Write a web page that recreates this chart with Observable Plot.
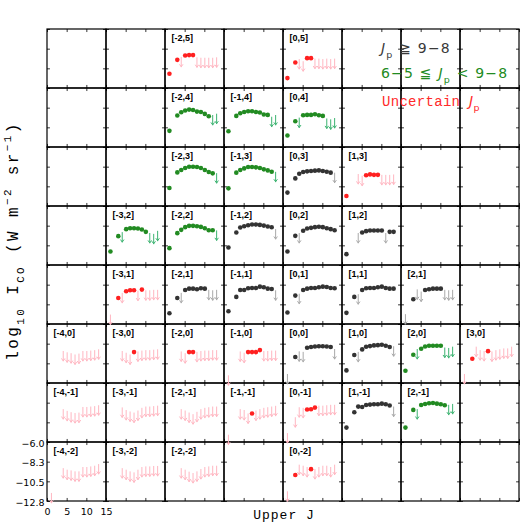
<!DOCTYPE html>
<html><head><meta charset="utf-8">
<script src="https://cdn.jsdelivr.net/npm/d3@7"></script>
<script src="https://cdn.jsdelivr.net/npm/@observablehq/plot@0.6"></script>
<style>
body{margin:0;background:#fff;}
#wrap{position:relative;width:530px;height:530px;overflow:hidden;background:#fff;}
</style></head><body><div id="wrap"></div>
<script>
// ---------- data ----------
const J_LEVELS = [1, 3, 4, 5, 6, 7, 8, 9, 10, 11, 12, 13];
const COLS = [-4, -3, -2, -1, 0, 1, 2, 3];
const ROWS = [5, 4, 3, 2, 1, 0, -1, -2];
const X_DOMAIN = [0, 15];
const Y_DOMAIN = [-12.8, -6.0];
const X_TICKS = [0, 5, 10, 15];
const X_TICK_LABELS = ["0", "5", "10", "15"];
const Y_TICKS = [-6.0, -8.2667, -10.5333, -12.8];
const Y_TICK_LABELS = ["\u22126.0", "\u22128.3", "\u221210.5", "\u221212.8"];

const panelPos = [
  [-2,5],[0,5],
  [-2,4],[-1,4],[0,4],
  [-2,3],[-1,3],[0,3],[1,3],
  [-3,2],[-2,2],[-1,2],[0,2],[1,2],
  [-3,1],[-2,1],[-1,1],[0,1],[1,1],[2,1],
  [-4,0],[-3,0],[-2,0],[-1,0],[0,0],[1,0],[2,0],[3,0],
  [-4,-1],[-3,-1],[-2,-1],[-1,-1],[0,-1],[1,-1],[2,-1],
  [-4,-2],[-3,-2],[-2,-2],[0,-2]
];
// high: Jp >= 9-8, mid: 6-5 <= Jp < 9-8, unc: uncertain Jp
const panelClass = [
  "unc","unc",
  "mid","mid","mid",
  "mid","mid","high","unc",
  "mid","mid","high","high","high",
  "unc","high","high","high","high","high",
  "unc","unc","unc","unc","high","high","mid","unc",
  "unc","unc","unc","unc","unc","high","mid",
  "unc","unc","unc","unc"
];
// per J level: d = detection, u = upper limit, - = none
const panelFlags = [
  "dduddduuuuuu","dduudduuuuuu",
  "dddddddddduu","dddddddddduu","ddudddddduuu",
  "dddddddddddu","dddddddddddu","dddddddddddu","d-uudddduuuu",
  "ddudddddduuu","dddddddddddu","dddddddddddu","dduddddddddd","d-uddddddudd",
  "ududdduduuuu","ddudddddduuu","dddddddddddu","dduddddddddd","dduddddddddd","uduuddddduuu",
  "--uuuuuuuuuu","--uuuduuuuuu","--uudduuuuuu","u-uudddduuuu","uduudddddddu","dduddddddddu","ddudddddduuu","uduuuduuuuuu",
  "--uuuuuuuuuu","--uuuuuuuuuu","--uuuuuuuuuu","u-uuuduuuuuu","uuuuddduuuuu","dddddddddddu","dduddddddduu",
  "u-uuuuuuuuuu","--uuuuuuuuuu","--uuuuuuuuuu","uduuuduuuuuu"
];
const panelValues = [
  [-11.1,-9.5,-9.2,-9.0,-8.95,-8.95,-9.25,-9.3,-9.3,-9.3,-9.3,-9.25],
  [-11.6,-9.8,-9.45,-9.7,-9.3,-9.3,-9.4,-9.4,-9.45,-9.4,-9.45,-9.4],
  [-10.88,-9.12,-8.74,-8.54,-8.43,-8.47,-8.66,-8.7,-8.93,-9.2,-9.1,-8.95],
  [-10.92,-9.16,-8.85,-8.7,-8.62,-8.62,-8.7,-8.77,-9.0,-9.04,-9.3,-9.1],
  [-11.42,-9.77,-9.4,-9.08,-9.04,-9.04,-8.97,-9.08,-9.16,-9.5,-9.6,-9.45],
  [-10.67,-8.87,-8.6,-8.37,-8.21,-8.21,-8.25,-8.37,-8.6,-8.83,-8.98,-9.0],
  [-10.71,-8.9,-8.6,-8.41,-8.25,-8.25,-8.29,-8.37,-8.52,-8.64,-8.79,-8.85],
  [-11.2,-9.56,-9.02,-8.83,-8.75,-8.71,-8.67,-8.64,-8.71,-8.79,-8.9,-8.95],
  [-11.59,null,-9.1,-9.3,-9.2,-9.1,-9.15,-9.15,-9.2,-9.2,-9.2,-9.15],
  [-11.18,-9.42,-9.0,-8.61,-8.5,-8.5,-8.54,-8.65,-8.92,-9.1,-9.2,-8.85],
  [-10.8,-9.07,-8.69,-8.38,-8.23,-8.23,-8.27,-8.35,-8.5,-8.73,-8.73,-8.8],
  [-10.72,-9.0,-8.42,-8.27,-8.16,-8.08,-8.08,-8.12,-8.2,-8.31,-8.39,-8.65],
  [-11.18,-9.38,-9.1,-8.8,-8.54,-8.46,-8.38,-8.34,-8.38,-8.5,-8.61,-8.73],
  [-11.49,null,-9.1,-9.0,-8.84,-8.77,-8.77,-8.77,-8.77,-9.1,-8.92,-8.92],
  [-11.7,-9.74,-9.2,-8.97,-8.86,-8.86,-8.95,-8.78,-8.9,-8.9,-8.85,-8.85],
  [-11.5,-9.74,-9.2,-8.82,-8.67,-8.67,-8.74,-8.63,-8.67,-8.85,-8.9,-8.85],
  [-11.27,-9.62,-8.82,-8.82,-8.63,-8.59,-8.59,-8.44,-8.51,-8.67,-8.7,-8.9],
  [-11.42,-9.47,-9.3,-8.82,-8.67,-8.59,-8.59,-8.51,-8.44,-8.48,-8.59,-8.63],
  [-11.46,-9.62,-9.35,-8.82,-8.63,-8.59,-8.59,-8.51,-8.44,-8.59,-8.67,-8.67],
  [-11.65,-9.89,-8.8,-9.05,-8.82,-8.74,-8.67,-8.67,-8.67,-8.85,-8.9,-8.85],
  [null,null,-9.1,-9.25,-9.35,-9.5,-9.4,-9.1,-9.1,-9.05,-9.0,-8.9],
  [null,null,-9.1,-9.3,-9.5,-9.18,-9.15,-9.05,-9.0,-9.0,-8.95,-8.9],
  [null,null,-9.15,-9.35,-9.18,-9.18,-9.2,-9.1,-9.05,-9.05,-9.0,-9.0],
  [-11.9,null,-9.15,-9.3,-9.18,-9.18,-9.18,-8.95,-9.1,-9.1,-9.05,-9.05],
  [-11.75,-9.75,-9.14,-9.2,-8.68,-8.6,-8.53,-8.5,-8.5,-8.53,-8.6,-8.87],
  [-11.29,-9.52,-9.2,-8.87,-8.57,-8.49,-8.41,-8.38,-8.34,-8.45,-8.6,-8.55],
  [-11.33,-9.49,-8.87,-8.8,-8.53,-8.45,-8.45,-8.45,-8.45,-8.7,-8.75,-8.6],
  [-11.75,-9.95,-8.6,-9.0,-9.1,-9.07,-9.15,-9.0,-8.9,-8.8,-8.8,-8.6],
  [null,null,-9.0,-9.2,-9.35,-9.45,-9.4,-8.75,-8.75,-8.7,-8.65,-8.55],
  [null,null,-8.8,-9.1,-9.27,-9.4,-9.16,-8.85,-8.7,-8.7,-8.65,-8.6],
  [null,null,-9.0,-9.16,-9.39,-9.58,-9.31,-9.0,-8.85,-8.78,-8.7,-8.7],
  [-11.95,null,-9.0,-9.1,-9.5,-9.45,-9.16,-9.0,-8.85,-8.78,-8.7,-8.62],
  [-11.76,-9.93,-8.78,-8.85,-9.0,-8.97,-8.78,-8.6,-8.6,-8.55,-8.5,-8.5],
  [-11.08,-9.31,-8.66,-8.7,-8.47,-8.43,-8.39,-8.39,-8.32,-8.39,-8.54,-8.7],
  [-11.08,-9.04,-9.0,-8.47,-8.36,-8.28,-8.24,-8.32,-8.39,-8.5,-8.5,-8.4],
  [-11.86,null,-9.0,-9.18,-9.26,-9.37,-9.37,-8.87,-8.87,-8.8,-8.72,-8.53],
  [null,null,-9.0,-9.18,-9.37,-9.49,-9.18,-8.87,-8.8,-8.8,-8.75,-8.75],
  [null,null,-9.0,-9.18,-9.41,-9.56,-9.37,-9.1,-8.87,-8.8,-8.72,-8.72],
  [-11.67,-9.75,-8.6,-8.72,-8.87,-9.07,-9.1,-8.87,-8.72,-8.72,-8.87,-8.6]
];

// ---------- styles ----------
const classStyles = [
  {key: "high", dot: "#333333", arrow: "#a9a9a9"},
  {key: "mid", dot: "#228b22", arrow: "#3cb371"},
  {key: "unc", dot: "#ff2020", arrow: "#ffb6c1"}
];
const ARROW_LEN = 1.1;   // decades
const TICK_Y = 0.35;     // decades
const TICK_X = 0.75;     // J units

// ---------- tables ----------
const records = [];
panelPos.forEach(([col, row], i) => {
  J_LEVELS.forEach((J, k) => {
    const f = panelFlags[i][k];
    if (f === "-") return;
    records.push({col, row, cls: panelClass[i], J, v: panelValues[i][k], upper: f === "u"});
  });
});
const panels = panelPos.map(([col, row]) => ({col, row, label: `[${col},${row}]`}));
const cells = COLS.flatMap(col => ROWS.map(row => ({col, row})));
const axisCol = COLS[0], axisRow = ROWS[ROWS.length - 1];

const marks = [
  Plot.rect(cells, {fx: "col", fy: "row", fill: "none", stroke: "#000", strokeWidth: 1.2}),
  Plot.ruleX(X_TICKS, {x: d => d, y1: Y_DOMAIN[0], y2: Y_DOMAIN[0] + TICK_Y, stroke: "#000", strokeWidth: 0.8}),
  Plot.ruleX(X_TICKS, {x: d => d, y1: Y_DOMAIN[1], y2: Y_DOMAIN[1] - TICK_Y, stroke: "#000", strokeWidth: 0.8}),
  Plot.ruleY(Y_TICKS, {y: d => d, x1: X_DOMAIN[0], x2: X_DOMAIN[0] + TICK_X, stroke: "#000", strokeWidth: 0.8}),
  Plot.ruleY(Y_TICKS, {y: d => d, x1: X_DOMAIN[1], x2: X_DOMAIN[1] - TICK_X, stroke: "#000", strokeWidth: 0.8})
];
for (const s of classStyles) {
  marks.push(Plot.arrow(records.filter(d => d.upper && d.cls === s.key), {
    fx: "col", fy: "row", x1: "J", x2: "J", y1: "v", y2: d => d.v - ARROW_LEN,
    stroke: s.arrow, strokeWidth: 1, headLength: 4, headAngle: 70
  }));
}
for (const s of classStyles) {
  marks.push(Plot.dot(records.filter(d => !d.upper && d.cls === s.key), {
    fx: "col", fy: "row", x: "J", y: "v", r: 2.3, fill: s.dot, stroke: "none"
  }));
}
marks.push(
  Plot.text(panels, {fx: "col", fy: "row", text: "label", frameAnchor: "top-left", dx: 6, dy: 5,
    lineAnchor: "top", textAnchor: "start", fontSize: 9, fontWeight: "bold", fontFamily: "Liberation Sans", fill: "#000"}),
  Plot.text(X_TICKS, {x: d => d, text: (d, i) => X_TICK_LABELS[i], fx: () => axisCol, fy: () => axisRow,
    frameAnchor: "bottom", dy: 10, lineAnchor: "middle", fontSize: 9.5, fontFamily: "DejaVu Sans", fill: "#000"}),
  Plot.text(Y_TICKS, {y: d => d, text: (d, i) => Y_TICK_LABELS[i], fx: () => axisCol, fy: () => axisRow,
    frameAnchor: "left", dx: -3, dy: 1, textAnchor: "end", lineAnchor: "middle", fontSize: 9.5, fontFamily: "DejaVu Sans", fill: "#000"})
);

const chart = Plot.plot({
  width: 530, height: 530,
  marginLeft: 46, marginRight: 10, marginTop: 28, marginBottom: 29,
  x: {domain: X_DOMAIN, axis: null},
  y: {domain: Y_DOMAIN, axis: null},
  fx: {domain: COLS, padding: 0, axis: null},
  fy: {domain: ROWS, padding: 0, axis: null},
  style: {background: "white", fontFamily: "DejaVu Sans", overflow: "visible"},
  marks
});
document.getElementById("wrap").appendChild(chart);

// ---------- titles & legend (text) ----------
const svg = d3.select(chart);
function richText(parent, x, y, parts, attrs) {
  const t = parent.append("text").attr("x", x).attr("y", y).attr("text-anchor", "start");
  for (const [k, v] of Object.entries(attrs)) t.attr(k, v);
  const base = attrs["font-size"];
  let shift = 0;
  for (const p of parts) {
    const ts = t.append("tspan").text(p.t);
    let target = 0, size = base;
    if (p.sub) { target = base * 0.35; size = base * 0.68; }
    if (p.sup) { target = -base * 0.45; size = base * 0.68; }
    ts.attr("dy", target - shift).attr("font-size", size);
    shift = target;
    if (p.italic) ts.attr("font-style", "italic");
    if (p.family) ts.attr("font-family", p.family);
  }
  return t;
}
const yl = svg.append("g").attr("transform", "translate(18,241) rotate(-90)");
richText(yl, 0, 0, [
  {t: "log"}, {t: "10", sub: true}, {t: " I"}, {t: "CO", sub: true}, {t: " (W m"},
  {t: "\u22122", sup: true}, {t: " sr"}, {t: "\u22121", sup: true}, {t: ")"}
], {"font-size": 16, "font-family": "Liberation Mono", "letter-spacing": 2.4, "text-anchor": "middle", fill: "#000"});

richText(svg, 284, 519, [{t: "Upper J"}],
  {"font-size": 13, "font-family": "Liberation Mono", "letter-spacing": 1.0, "text-anchor": "middle", fill: "#000"});

richText(svg, 381, 53, [{t: "J", italic: true}, {t: "p", sub: true}, {t: " \u2267 9\u22128"}],
  {"font-size": 14, "font-family": "DejaVu Sans", "letter-spacing": 1.2, fill: "#3a3a3a"});
richText(svg, 381, 78, [{t: "6\u22125 \u2266 "}, {t: "J", italic: true}, {t: "p", sub: true}, {t: " < 9\u22128"}],
  {"font-size": 14, "font-family": "DejaVu Sans", "letter-spacing": 1.2, fill: "#228b22"});
richText(svg, 382, 106, [{t: "Uncertain "}, {t: "J", italic: true, family: "DejaVu Sans"}, {t: "p", sub: true, family: "DejaVu Sans"}],
  {"font-size": 14, "font-family": "Liberation Mono", "letter-spacing": 0.3, fill: "#ff2a2a"});
</script></body></html>
